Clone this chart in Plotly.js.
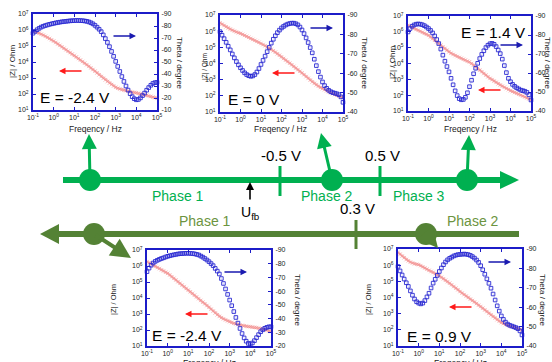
<!DOCTYPE html>
<html><head><meta charset="utf-8">
<script src="https://cdn.plot.ly/plotly-3.0.1.min.js"></script>
<style>html,body{margin:0;padding:0;background:#fff}#chart{width:552px;height:362px}</style>
</head><body><div id="chart"></div>
<script>
// Measurement frequency grid (10 points per decade, 0.1 Hz .. 100 kHz)
const FREQ = Array.from({length: 61}, (_, i) => Math.pow(10, -1 + i / 10));

// Potentials of the five Bode plots
const LABELS = ['E = -2.4 V', 'E = 0 V', 'E = 1.4 V', 'E = -2.4 V', 'E = 0.9 V'];

// log10(|Z| / Ohm)
const LOGZ_A = [5.96,5.91,5.86,5.8,5.74,5.68,5.61,5.54,5.47,5.39,5.31,5.22,5.13,5.04,4.95,4.86,4.77,4.68,4.59,4.5,4.41,4.32,4.22,4.13,4.03,3.93,3.83,3.73,3.63,3.53,3.43,3.32,3.2,3.09,2.98,2.88,2.78,2.68,2.59,2.5,2.42,2.36,2.31,2.27,2.24,2.21,2.18,2.15,2.12,2.1,2.08,2.05,2.02,1.99,1.96,1.93,1.89,1.85,1.81,1.77,1.73];
const LOGZ_B = [6.52,6.43,6.35,6.27,6.2,6.13,6.06,6.0,5.95,5.9,5.86,5.8,5.74,5.68,5.62,5.55,5.49,5.43,5.37,5.31,5.24,5.17,5.1,5.02,4.95,4.87,4.79,4.7,4.6,4.51,4.41,4.31,4.21,4.11,4.02,3.92,3.82,3.72,3.62,3.52,3.42,3.31,3.19,3.08,2.97,2.86,2.77,2.68,2.6,2.52,2.45,2.38,2.31,2.24,2.18,2.13,2.08,2.03,1.98,1.93,1.89];
const LOGZ_C = [6.41,6.35,6.29,6.22,6.16,6.1,6.04,5.97,5.91,5.85,5.78,5.68,5.57,5.47,5.37,5.26,5.16,5.05,4.95,4.84,4.74,4.65,4.57,4.5,4.44,4.38,4.33,4.27,4.22,4.16,4.11,4.0,3.9,3.79,3.69,3.58,3.48,3.37,3.27,3.16,3.06,2.98,2.89,2.81,2.72,2.64,2.57,2.5,2.42,2.35,2.28,2.23,2.17,2.12,2.06,2.01,1.95,1.89,1.83,1.77,1.7];
const LOGZ_D = [6.27,6.2,6.13,6.06,5.98,5.91,5.84,5.76,5.69,5.61,5.54,5.44,5.33,5.23,5.13,5.02,4.92,4.81,4.71,4.6,4.5,4.39,4.29,4.18,4.07,3.96,3.85,3.74,3.64,3.53,3.42,3.3,3.18,3.06,2.95,2.85,2.77,2.7,2.63,2.57,2.52,2.47,2.42,2.38,2.34,2.31,2.29,2.26,2.24,2.22,2.21,2.19,2.17,2.15,2.12,2.1,2.07,2.03,1.99,1.95,1.9];
const LOGZ_E = [6.79,6.68,6.56,6.46,6.35,6.27,6.19,6.13,6.08,6.06,6.03,5.97,5.9,5.83,5.76,5.68,5.61,5.55,5.48,5.41,5.34,5.25,5.16,5.07,4.98,4.89,4.79,4.68,4.58,4.48,4.37,4.27,4.18,4.09,4.0,3.9,3.81,3.72,3.63,3.53,3.44,3.34,3.23,3.13,3.02,2.92,2.82,2.73,2.63,2.54,2.45,2.39,2.33,2.28,2.24,2.2,2.16,2.12,2.08,2.03,1.99];

// Phase angle Theta / degree
const THETA_A = [-74,-75.5,-76.9,-78.1,-79.1,-79.8,-80.4,-80.9,-81.4,-81.8,-82.2,-82.6,-82.9,-83.2,-83.5,-83.7,-83.9,-84.1,-84.3,-84.4,-84.5,-84.6,-84.6,-84.5,-84.4,-84.2,-83.9,-83.4,-82.7,-81.8,-80.5,-79,-77.3,-75.3,-72.6,-69.5,-66.3,-62.8,-58.8,-54.7,-50.5,-46.3,-42.1,-37.9,-33.8,-30,-26.6,-23.6,-21.1,-19.4,-18.5,-18.8,-20.1,-22,-24.1,-26.5,-28.7,-30.6,-32.1,-32.8,-33];
const THETA_B = [-81.4,-79.6,-77.8,-75.9,-73.9,-72,-69.9,-67.9,-66,-64.3,-62.8,-61.4,-60.2,-59.3,-58.7,-58.4,-58.6,-59.3,-60.6,-62.4,-64.5,-66.6,-68.8,-71.1,-73.3,-75.5,-77.5,-79.3,-80.9,-82.2,-83.3,-84.1,-84.8,-85.3,-85.6,-85.8,-85.8,-85.5,-84.9,-83.8,-82.3,-80.4,-78.2,-75.8,-73.2,-70.5,-67.2,-63.9,-60.8,-58,-55.5,-53.6,-52.2,-51.2,-50.5,-50,-49.7,-49.4,-48.9,-47.8,-45];
const THETA_C = [-81.6,-83.4,-84.6,-85.3,-85.7,-85.8,-85.7,-85.4,-84.9,-84.2,-83.4,-82.4,-81.1,-79.5,-77.6,-75.5,-72.6,-69.4,-66.2,-63.4,-60.6,-57.2,-53.8,-50.6,-48.1,-46.5,-45.9,-46.1,-47.2,-49.6,-52.8,-56.2,-59.6,-62.5,-65.1,-67.6,-69.8,-71.7,-73.4,-74.6,-75.4,-75.6,-75.1,-73.9,-72.1,-70.2,-67.3,-63.9,-60.2,-57.2,-55.4,-54,-53,-52.2,-51.6,-51,-50.7,-50.4,-49.8,-48.5,-45.8];
const THETA_D = [-74.2,-76.8,-78.9,-80.5,-81.7,-82.5,-83.2,-83.8,-84.3,-84.9,-85.4,-85.8,-86.2,-86.5,-86.8,-87.1,-87.3,-87.4,-87.5,-87.6,-87.6,-87.5,-87.4,-87.2,-86.8,-86.4,-85.6,-84.8,-83.8,-82.7,-81.5,-80.1,-78.6,-76.6,-74.6,-72.5,-69.2,-65.6,-61.6,-57.6,-53.5,-49.4,-45.1,-40.8,-36.7,-32.8,-29.1,-25.9,-23.5,-21.9,-21.4,-22.2,-23.9,-26.1,-28.3,-30.4,-31.8,-32.9,-33.6,-34,-34];
const THETA_E = [-81,-78.7,-76.6,-74.5,-72.6,-70.7,-68.4,-66.2,-64.2,-62.8,-62.1,-61.7,-62.1,-63.4,-65.3,-67.2,-69.9,-72.4,-74.4,-76.4,-78.4,-80.2,-81.9,-83.3,-84.4,-85.2,-85.8,-86.4,-86.8,-87.1,-87.2,-87.3,-87.4,-87.3,-87.1,-86.7,-86.1,-85.3,-84.3,-83.1,-81.4,-79.3,-77,-74.6,-72.3,-69.8,-66.8,-63.7,-60.7,-58,-55.5,-53.7,-52.3,-51.3,-50.7,-50.3,-49.9,-49.5,-48.9,-47.8,-45.7];

// Lower limit of the Theta axis in each panel
const THETA_MIN = [-10, -40, -40, -20, -40];
// Tick labels
const X_TICKS = [-1, 0, 1, 2, 3, 4, 5];
const Z_TICKS = [1, 2, 3, 4, 5, 6, 7];

const LOGZ = [LOGZ_A, LOGZ_B, LOGZ_C, LOGZ_D, LOGZ_E];
const THETA = [THETA_A, THETA_B, THETA_C, THETA_D, THETA_E];

// ---------- layout geometry (pixels) ----------
const W = 552, H = 362;
const px = x => x / W, py = y => 1 - y / H;
const BOX = [
  {x0: 33, x1: 157, y0: 14, y1: 110},
  {x0: 220, x1: 343, y0: 15, y1: 112},
  {x0: 408, x1: 531, y0: 16, y1: 111},
  {x0: 147, x1: 271, y0: 250, y1: 346},
  {x0: 398, x1: 522, y0: 249, y1: 346}
];
const TXT = [
  {e: [75, 98], zl: [12, 62], zs: 8, th: [180, 63], fq: [95, 128.5], ba: [136, 36], ra: [59, 71]},
  {e: [254, 100], zl: [205, 67], zs: 6.5, th: [365, 63], fq: [280, 128.5], ba: [333, 28], ra: [272, 73]},
  {e: [493, 32], zl: [392, 63], zs: 8, th: [548, 63], fq: [470, 128.5], ba: [523, 45], ra: [478, 90]},
  {e: [187, 335], zl: [113, 300], zs: 7.5, th: [298, 300], fq: [209, 363], ba: [247, 272], ra: [185, 314]},
  {e: [439, 336], zl: [368, 300], zs: 7.5, th: [543, 300], fq: [460, 363], ba: [511, 262], ra: [449, 307]}
];

const FONT = 'Liberation Sans, Arial, sans-serif';
const FRAME = '#1c1cc8';
const BLUE = '#2a2ad2';
const REDM = '#f07a7a';

const data = [];
const layout = {
  width: W, height: H,
  margin: {l: 0, r: 0, t: 0, b: 0},
  paper_bgcolor: '#fff', plot_bgcolor: 'rgba(0,0,0,0)',
  showlegend: false,
  font: {family: FONT, size: 7, color: '#222'},
  annotations: [], shapes: []
};

for (let k = 0; k < 5; k++) {
  const n = k + 1;
  const xa = 'xaxis' + (n === 1 ? '' : n);
  const yl = 2 * n - 1, yr = 2 * n;
  const ylId = 'y' + (yl === 1 ? '' : yl);
  const ylName = 'yaxis' + (yl === 1 ? '' : yl);
  const yrName = 'yaxis' + yr;
  const b = BOX[k];
  layout[xa] = {
    type: 'log', range: [-1, 5],
    tickvals: X_TICKS.map(e => Math.pow(10, e)), ticktext: X_TICKS.map(e => '10<sup>' + e + '</sup>'),
    domain: [px(b.x0), px(b.x1)], anchor: ylId,
    showline: true, linecolor: FRAME, linewidth: 2, mirror: 'ticks',
    ticks: 'inside', ticklen: 3, tickcolor: FRAME, showgrid: false, zeroline: false,
    tickfont: {size: 7, color: '#222'}, ticklabelstandoff: 0
  };
  layout[ylName] = {
    type: 'log', range: [1, 7],
    tickvals: Z_TICKS.map(e => Math.pow(10, e)), ticktext: Z_TICKS.map(e => '10<sup>' + e + '</sup>'),
    domain: [py(b.y1), py(b.y0)], anchor: 'x' + n,
    showline: true, linecolor: FRAME, linewidth: 2,
    ticks: 'inside', ticklen: 3, tickcolor: FRAME, showgrid: false, zeroline: false,
    tickfont: {size: 7, color: '#222'}, ticklabelstandoff: 1
  };
  const tv = [], tt = [];
  for (let v = -90; v <= THETA_MIN[k]; v += 10) { tv.push(v); tt.push('-' + Math.abs(v)); }
  layout[yrName] = {
    range: [THETA_MIN[k], -90], overlaying: ylId, side: 'right', anchor: 'x' + n,
    tickvals: tv, ticktext: tt,
    showline: true, linecolor: FRAME, linewidth: 2,
    ticks: 'inside', ticklen: 3, tickcolor: FRAME, showgrid: false, zeroline: false,
    tickfont: {size: 7, color: '#222'}, ticklabelstandoff: 1
  };
  data.push({
    x: FREQ, y: LOGZ[k].map(v => Math.pow(10, v)), xaxis: 'x' + n, yaxis: ylId,
    type: 'scatter', mode: 'lines+markers', cliponaxis: false,
    line: {color: 'rgba(242,140,140,0.6)', width: 2.5},
    marker: {symbol: 'x-thin-open', size: 3.5, line: {color: REDM, width: 1}}
  });
  data.push({
    x: FREQ, y: THETA[k], xaxis: 'x' + n, yaxis: 'y' + yr,
    type: 'scatter', mode: 'lines+markers', cliponaxis: false,
    line: {color: 'rgba(90,90,230,0.35)', width: 0.6},
    marker: {symbol: 'square-open', size: 3.6, color: BLUE, line: {color: BLUE, width: 0.9}}
  });
  const t = TXT[k];
  const A = layout.annotations;
  A.push({xref: 'paper', yref: 'paper', x: px(t.e[0]), y: py(t.e[1]), text: LABELS[k], showarrow: false,
    font: {size: 15.5, color: '#000', family: FONT}, xanchor: 'center', yanchor: 'middle'});
  A.push({xref: 'paper', yref: 'paper', x: px(t.zl[0]), y: py(t.zl[1]), text: '|Z| / Ohm', showarrow: false,
    textangle: -90, font: {size: t.zs, color: '#222'}, xanchor: 'center', yanchor: 'middle'});
  A.push({xref: 'paper', yref: 'paper', x: px(t.th[0]), y: py(t.th[1]), text: 'Theta / degree', showarrow: false,
    textangle: 90, font: {size: 8, color: '#222'}, xanchor: 'center', yanchor: 'middle'});
  A.push({xref: 'paper', yref: 'paper', x: px(t.fq[0]), y: py(t.fq[1]), text: 'Freqency / Hz', showarrow: false,
    font: {size: 8.5, color: '#222'}, xanchor: 'center', yanchor: 'middle'});
  A.push({xref: 'paper', yref: 'paper', x: px(t.ba[0]), y: py(t.ba[1]), text: '', showarrow: true,
    ax: -24, ay: 0, arrowcolor: '#1a1ab0', arrowwidth: 1.3, arrowhead: 2, arrowsize: 1});
  A.push({xref: 'paper', yref: 'paper', x: px(t.ra[0]), y: py(t.ra[1]), text: '', showarrow: true,
    ax: 24, ay: 0, arrowcolor: '#ff1a1a', arrowwidth: 1.3, arrowhead: 2, arrowsize: 1});
}

// ---------- schematic of the potential scan ----------
const G1 = '#00b050', G2 = '#548235';
const S = layout.shapes, A = layout.annotations;
function line(x0, y0, x1, y1, c, w) {
  S.push({type: 'line', xref: 'paper', yref: 'paper', x0: px(x0), y0: py(y0), x1: px(x1), y1: py(y1), line: {color: c, width: w}});
}
function tri(p, c) {
  const d = 'M ' + p.map(q => px(q[0]) + ',' + py(q[1])).join(' L ') + ' Z';
  S.push({type: 'path', xref: 'paper', yref: 'paper', path: d, fillcolor: c, line: {color: c, width: 0}});
}
function dot(x, y, r, c) {
  S.push({type: 'circle', xref: 'paper', yref: 'paper', x0: px(x - r), x1: px(x + r), y0: py(y + r), y1: py(y - r), fillcolor: c, line: {color: c, width: 0}});
}
function arrow(tx, ty, fx, fy, c, w) {
  A.push({xref: 'paper', yref: 'paper', x: px(tx), y: py(ty), ax: fx - tx, ay: fy - ty, text: '', showarrow: true,
    arrowcolor: c, arrowwidth: w, arrowhead: 2, arrowsize: 1, startstandoff: 0});
}
function label(x, y, s, c, size) {
  A.push({xref: 'paper', yref: 'paper', x: px(x), y: py(y), text: s, showarrow: false,
    font: {size: size, color: c, family: FONT}, xanchor: 'center', yanchor: 'middle'});
}
// upper (forward) scan
line(63, 180, 502, 180, G1, 6);
tri([[500, 171], [519, 180], [500, 189]], G1);
line(280, 166, 280, 196, G1, 3);
line(380, 166, 380, 196, G1, 3);
dot(90, 180, 11, G1); dot(332, 180, 11, G1); dot(467, 180, 11, G1);
arrow(89, 134, 90, 180, G1, 3);
arrow(321, 133, 332, 180, G1, 3);
arrow(469, 135, 467, 180, G1, 3);
label(281, 155, '-0.5 V', '#000', 15);
label(382, 155, '0.5 V', '#000', 15);
label(178, 196, 'Phase 1', G1, 14);
label(327, 196, 'Phase 2', G1, 14);
label(419, 196, 'Phase 3', G1, 14);
arrow(250, 182, 250, 201, '#000', 1.6);
label(250, 213, 'U<sub>fb</sub>', '#000', 14);
// lower (backward) scan
line(57, 234, 519, 234, G2, 6);
tri([[59, 224], [40, 234], [59, 244]], G2);
line(356, 220, 356, 249, G2, 3);
dot(94, 234, 11, G2); dot(426, 234, 11, G2);
arrow(131, 258, 94, 234, G2, 4);
arrow(438, 248, 426, 234, G2, 4);
label(357, 208, '0.3 V', '#000', 15);
label(205, 221, 'Phase 1', '#6c9440', 14);
label(473, 221, 'Phase 2', '#6c9440', 14);

Plotly.newPlot('chart', data, layout, {staticPlot: true, displayModeBar: false});
</script>
</body></html>
